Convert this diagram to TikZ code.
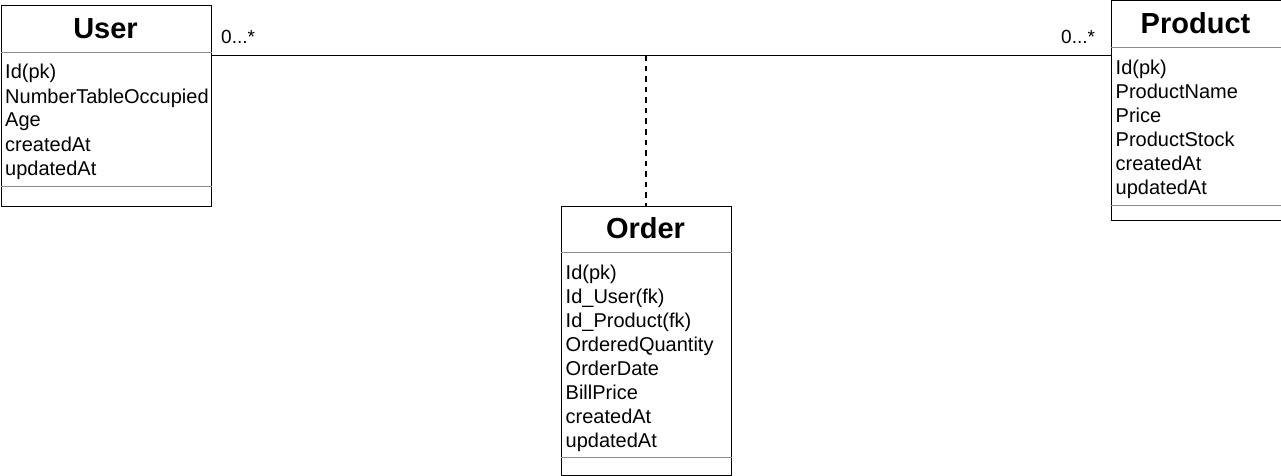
\documentclass[tikz,border=0pt]{standalone}
\usepackage{fontspec}
\setmainfont{Liberation Sans}
\definecolor{sepgray}{RGB}{140,140,140}
\begin{document}
\begin{tikzpicture}[x=1pt,y=-1pt,
  classbox/.style={draw=black, line width=1pt, fill=white, inner sep=0pt, anchor=north west},
  classtitle/.style={font=\bfseries\fontsize{29}{34}\selectfont, anchor=base, inner sep=0pt},
  attr/.style={font=\fontsize{20}{24}\selectfont, anchor=base west, inner sep=0pt},
  mult/.style={font=\fontsize{19}{22}\selectfont, anchor=base west, inner sep=0pt},
  sepline/.style={draw=sepgray, line width=1pt},
  assoc/.style={draw=black, line width=1.8pt},
  link/.style={draw=black, line width=1.8pt, dash pattern=on 5.5pt off 5pt}]
\useasboundingbox (0,0) rectangle (1281,476);

\coordinate (ul) at (210.5,55.5);
\coordinate (pl) at (1110.5,55.5);
\coordinate (oj) at (645.5,55.5);

% User
\node[classbox, minimum width=210pt, minimum height=200pt] (user) at (0.5,5.5) {};
\node[classtitle] (usert) at (105.5,38.5) {User};
\draw[sepline] ([yshift=-47pt]user.north west) -- ([yshift=-47pt]user.north east);
\draw[sepline] ([yshift=20pt]user.south west) -- ([yshift=20pt]user.south east);
\foreach \t [count=\i from 0] in {Id(pk),NumberTableOccupied,Age,createdAt,updatedAt}
  \node[attr] (ua\i) at (5,79+24*\i) {\t};

% Product
\node[classbox, minimum width=170pt, minimum height=219.5pt] (product) at (1110.5,0.5) {};
\node[classtitle] (productt) at (1195.5,33.5) {Product};
\draw[sepline] ([yshift=-47pt]product.north west) -- ([yshift=-47pt]product.north east);
\draw[sepline] ([yshift=16pt]product.south west) -- ([yshift=16pt]product.south east);
\foreach \t [count=\i from 0] in {Id(pk),ProductName,Price,ProductStock,createdAt,updatedAt}
  \node[attr] (pa\i) at (1115.5,74.5+24*\i) {\t};

% Order
\node[classbox, minimum width=170pt, minimum height=269pt] (order) at (560.5,205.5) {};
\node[classtitle] (ordert) at (645.5,238.5) {Order};
\draw[sepline] ([yshift=-47pt]order.north west) -- ([yshift=-47pt]order.north east);
\draw[sepline] ([yshift=18pt]order.south west) -- ([yshift=18pt]order.south east);
\foreach \t [count=\i from 0] in {Id(pk),Id\_User(fk),Id\_Product(fk),OrderedQuantity,OrderDate,BillPrice,createdAt,updatedAt}
  \node[attr] (oa\i) at (565.5,279+24*\i) {\t};

% connectors
\draw[assoc] (user.east |- ul) -- (product.west |- pl);
\draw[link] (order.north |- oj) -- (order.north);

% multiplicities
\node[mult] (m1) at (221,43.5) {0...*};
\node[mult] (m2) at (1061,43.5) {0...*};
\end{tikzpicture}
\end{document}
